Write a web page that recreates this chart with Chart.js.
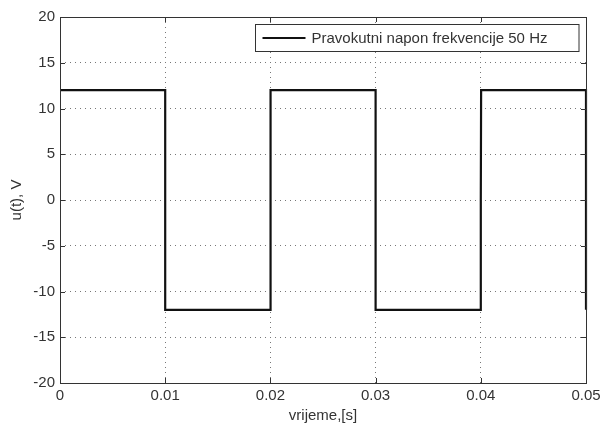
<!DOCTYPE html>
<html>
<head>
<meta charset="utf-8">
<script src="https://cdn.jsdelivr.net/npm/chart.js@4"></script>
<style>
  html, body { margin: 0; padding: 0; background: #fff; }
  #wrap { width: 601px; height: 425px; }
</style>
</head>
<body>
<div id="wrap"><canvas id="chart" width="601" height="425"></canvas></div>
<script>
  // square wave samples
  let times = [0, 0.01, 0.01, 0.02, 0.02, 0.02003, 0.03, 0.03, 0.04, 0.04, 0.04003, 0.05, 0.05, 0.05];
  let volts = [12, 12, -12, -12, 0, 12, 12, -12, -12, 0, 12, 12, 0, -12];
  let xTicks = [0, 0.01, 0.02, 0.03, 0.04, 0.05];
  let yTicks = [-20, -15, -10, -5, 0, 5, 10, 15, 20];
  let seriesLabel = "Pravokutni napon frekvencije 50 Hz";

  let points = times.map((t, i) => ({ x: t, y: volts[i] }));
  let font = { family: "'Liberation Sans', Arial, sans-serif", size: 15 };
  let textColor = "#333";

  // box round the plot, inward ticks and the boxed legend
  let matlabBox = {
    id: "matlabBox",
    afterDraw(chart) {
      let ctx = chart.ctx;
      let a = chart.chartArea;
      let xs = chart.scales.x, ys = chart.scales.y;
      ctx.save();
      ctx.strokeStyle = "#333";
      ctx.lineWidth = 1;
      ctx.beginPath();
      xTicks.forEach(v => {
        let px = Math.round(xs.getPixelForValue(v)) + 0.5;
        ctx.moveTo(px, a.bottom); ctx.lineTo(px, a.bottom - 5);
        ctx.moveTo(px, a.top); ctx.lineTo(px, a.top + 5);
      });
      yTicks.forEach(v => {
        let py = Math.round(ys.getPixelForValue(v)) + 0.5;
        ctx.moveTo(a.left, py); ctx.lineTo(a.left + 5, py);
        ctx.moveTo(a.right, py); ctx.lineTo(a.right - 5, py);
      });
      ctx.stroke();
      ctx.strokeRect(Math.round(a.left) + 0.5, Math.round(a.top) + 0.5,
        Math.round(a.right - a.left), Math.round(a.bottom - a.top));

      // legend
      ctx.font = font.size + "px " + font.family;
      let bx = 255.5, by = 24.5, bh = 27;
      let bw = a.right - 7 - bx;
      ctx.fillStyle = "#fff";
      ctx.fillRect(bx, by, bw, bh);
      ctx.strokeStyle = "#333";
      ctx.strokeRect(bx, by, bw, bh);
      ctx.strokeStyle = "#111";
      ctx.lineWidth = 2;
      ctx.beginPath();
      ctx.moveTo(bx + 7, by + bh / 2);
      ctx.lineTo(bx + 50, by + bh / 2);
      ctx.stroke();
      ctx.fillStyle = textColor;
      ctx.textBaseline = "middle";
      ctx.textAlign = "left";
      ctx.fillText(seriesLabel, bx + 56, by + bh / 2 + 1);
      ctx.restore();
    }
  };

  new Chart(document.getElementById("chart"), {
    type: "line",
    data: {
      datasets: [{
        label: seriesLabel,
        data: points,
        borderColor: "#111",
        borderWidth: 2.2,
        pointRadius: 0,
        tension: 0,
        fill: false,
        clip: 4,
      }],
    },
    options: {
      responsive: false,
      animation: false,
      layout: { padding: { top: 17, right: 15, left: 0, bottom: 0 } },
      plugins: {
        legend: { display: false },
        tooltip: { enabled: false },
      },
      scales: {
        x: {
          type: "linear",
          min: 0,
          max: 0.05,
          afterBuildTicks: s => { s.ticks = xTicks.map(v => ({ value: v })); },
          afterFit: s => { s.height = 42; s.paddingRight = 0; s.paddingLeft = 0; },
          ticks: {
            color: textColor,
            font: font,
            padding: 4,
            maxRotation: 0,
            callback: v => String(v),
          },
          grid: { color: "#777", lineWidth: 1, drawTicks: false, tickLength: 0 },
          border: { display: false, dash: [1, 4] },
          title: { display: true, text: "vrijeme,[s]", color: textColor, font: font, padding: { top: 1, bottom: 0 } },
        },
        y: {
          min: -20,
          max: 20,
          afterBuildTicks: s => { s.ticks = yTicks.map(v => ({ value: v })); },
          afterFit: s => { s.width = 60; s.paddingTop = 0; s.paddingBottom = 0; },
          ticks: { color: textColor, font: font, padding: 5 },
          grid: { color: "#777", lineWidth: 1, drawTicks: false, tickLength: 0 },
          border: { display: false, dash: [1, 4] },
          title: { display: true, text: "u(t), V", color: textColor, font: font, padding: { top: 8, bottom: 0 } },
        },
      },
    },
    plugins: [matlabBox],
  });
</script>
</body>
</html>
